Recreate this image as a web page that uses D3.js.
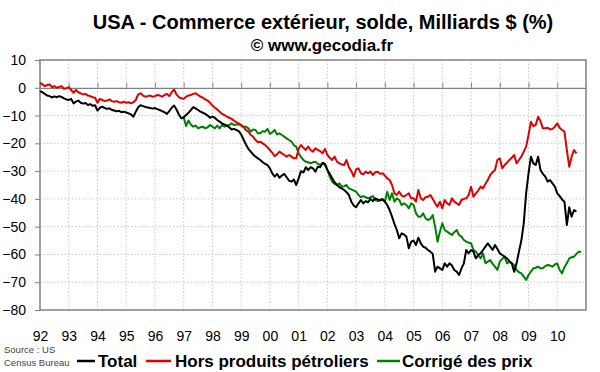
<!DOCTYPE html>
<meta charset="utf-8">
<style>
  body { margin: 0; background: #fff; }
  svg { display: block; font-family: "Liberation Sans", Arial, sans-serif; }
  .grid line { stroke: #c8c8c8; stroke-dasharray: 1.5 2; }
  .axis text { font-size: 14px; fill: #000; }
  .axis line, .axis path { stroke: #808080; }
  .series { fill: none; stroke-width: 2; stroke-linejoin: round; }
</style>
<body>
<svg width="600" height="372"></svg>
<script src="https://d3js.org/d3.v7.min.js"></script>
<script>
// monthly values, Milliards $
const total = [
  -1.2, -1.6, -2.2, -2.8, -3.0, -3.5, -3.1, -3.4, -3.0, -3.3, -3.8, -4.2,          // 1992
  -4.4, -4.0, -5.6, -5.0, -4.6, -5.4, -5.7, -5.5, -6.2, -5.9, -6.5, -6.3,          // 1993
  -8.2, -7.2, -6.8, -7.3, -7.6, -7.4, -8.0, -8.2, -8.5, -8.3, -8.8, -8.6,          // 1994
  -8.9, -9.2, -9.6, -10.4, -8.6, -7.0, -6.3, -6.6, -6.9, -7.1, -7.3, -7.5,         // 1995
  -7.3, -7.7, -8.0, -8.4, -8.8, -9.4, -8.4, -7.2, -6.4, -7.8, -9.6, -11.0,         // 1996
  -10.6, -9.8, -9.0, -8.0, -7.0, -7.4, -8.0, -8.6, -9.0, -9.4, -10.0, -10.8,       // 1997
  -10.4, -10.8, -11.6, -12.2, -12.8, -13.2, -13.6, -14.2, -15.0, -14.8, -15.2, -15.6, // 1998
  -16.8, -18.6, -20.4, -22.0, -23.0, -24.0, -24.8, -25.4, -26.0, -26.8, -27.4, -27.8, // 1999
  -29.0, -30.8, -32.0, -31.0, -32.4, -31.6, -31.0, -32.2, -33.4, -33.8, -33.0, -35.0, // 2000
  -32.6, -30.0, -30.5, -28.6, -29.6, -28.6, -29.0, -30.2, -28.4, -28.6, -27.0, -27.4, // 2001
  -29.6, -31.0, -32.6, -34.0, -35.0, -35.8, -36.2, -36.8, -37.6, -38.6, -41.0, -42.4, // 2002
  -43.0, -41.6, -40.4, -41.6, -40.8, -41.2, -40.0, -40.8, -39.8, -40.2, -40.6, -40.2, // 2003
  -41.0, -42.2, -44.0, -46.4, -49.0, -51.2, -54.2, -52.4, -52.8, -53.6, -57.8, -55.4, // 2004
  -55.0, -56.6, -54.0, -56.0, -57.2, -57.6, -58.4, -59.0, -59.8, -66.2, -64.4, -65.0, // 2005
  -65.6, -63.2, -64.4, -63.2, -64.0, -65.6, -66.2, -67.4, -65.0, -63.2, -58.4, -59.6, // 2006
  -58.4, -59.0, -61.4, -60.2, -59.6, -58.4, -57.2, -56.0, -57.2, -58.4, -56.6, -58.0, // 2007
  -59.6, -60.2, -60.8, -61.4, -62.4, -63.2, -66.2, -63.2, -59.0, -55.0, -48.8, -38.0, // 2008
  -30.8, -24.8, -27.2, -27.8, -24.8, -29.6, -31.0, -32.0, -33.8, -33.2, -34.4, -35.6, // 2009
  -38.0, -39.0, -40.2, -41.0, -49.4, -43.0, -46.4, -44.0, -44.5                        // 2010
];

const horsPetrole = [
  1.8, 1.2, 0.6, 1.0, 1.2, 0.2, 0.6, 0.0, 0.3, 0.6, -0.4, -0.2,                    // 1992
  0.2, -0.8, -1.8, -0.8, -1.6, -2.0, -2.4, -2.2, -2.8, -3.0, -3.4, -3.6,           // 1993
  -5.4, -4.0, -4.4, -4.8, -4.6, -4.2, -4.8, -5.0, -4.8, -5.2, -5.4, -5.0,          // 1994
  -5.4, -5.2, -5.6, -5.2, -4.4, -2.4, -2.0, -2.8, -3.2, -3.0, -2.8, -3.2,          // 1995
  -3.0, -2.6, -2.8, -3.2, -2.6, -2.2, -3.0, -1.6, -0.6, -2.4, -3.4, -3.8,          // 1996
  -4.0, -3.2, -2.8, -2.6, -2.2, -2.0, -2.6, -3.2, -3.6, -4.2, -4.6, -5.4,          // 1997
  -6.4, -7.2, -7.8, -8.6, -9.4, -9.8, -10.4, -10.8, -11.2, -11.8, -12.4, -12.8,    // 1998
  -13.6, -14.2, -15.2, -15.8, -17.0, -17.6, -18.8, -19.6, -19.4, -20.0, -20.6, -21.4, // 1999
  -22.4, -23.4, -24.6, -24.0, -23.0, -23.6, -24.2, -24.8, -24.2, -24.8, -25.4, -25.4, // 2000
  -22.0, -20.6, -21.6, -22.4, -21.2, -22.4, -23.0, -21.8, -22.4, -22.8, -23.6, -22.0, // 2001
  -24.2, -25.2, -26.0, -24.8, -26.6, -27.2, -27.6, -27.8, -26.0, -28.6, -30.0, -32.0, // 2002
  -29.4, -29.0, -30.8, -31.2, -30.2, -30.8, -30.2, -31.4, -30.4, -30.2, -31.0, -30.8, // 2003
  -31.6, -32.6, -33.2, -35.0, -38.0, -38.6, -37.4, -38.8, -39.2, -38.6, -38.0, -39.8, // 2004
  -39.8, -41.0, -36.8, -39.8, -40.4, -39.4, -39.2, -38.6, -40.0, -41.6, -42.8, -41.0, // 2005
  -43.4, -40.4, -41.6, -42.2, -39.8, -41.0, -41.6, -42.2, -40.4, -40.0, -39.8, -38.6, // 2006
  -35.6, -39.2, -38.0, -37.0, -35.6, -36.2, -34.6, -33.2, -31.4, -30.4, -29.6, -26.0, // 2007
  -25.4, -29.0, -27.8, -27.0, -26.0, -25.2, -24.2, -27.2, -26.0, -24.8, -23.0, -21.2, // 2008
  -17.0, -12.2, -13.8, -13.4, -10.4, -12.0, -14.6, -14.6, -14.4, -15.0, -14.8, -14.0, // 2009
  -12.8, -14.4, -15.2, -15.8, -22.4, -28.4, -24.8, -22.4, -23.6                       // 2010
];

const corrigePrix = [
  -10.6, -13.8, -11.8, -13.2, -14.0, -13.6, -14.6, -14.2, -14.0, -14.6, -14.2, -13.4, // 1997
  -14.0, -14.6, -13.6, -14.6, -13.4, -14.0, -13.6, -13.4, -12.8, -13.4, -13.2, -13.2, // 1998
  -13.4, -14.0, -14.0, -14.6, -15.8, -15.0, -15.2, -16.4, -16.4, -15.6, -15.8, -14.8, // 1999
  -16.6, -16.0, -15.2, -16.8, -16.4, -17.0, -17.6, -18.2, -18.8, -19.4, -20.6, -21.2, // 2000
  -23.6, -25.0, -26.0, -26.6, -26.8, -27.2, -26.8, -26.6, -27.4, -27.8, -27.2, -27.8, // 2001
  -29.6, -32.0, -33.8, -34.6, -35.0, -34.4, -35.6, -35.4, -35.0, -36.2, -36.6, -37.0, // 2002
  -37.4, -38.6, -39.4, -39.0, -39.4, -39.8, -39.4, -39.0, -40.4, -40.8, -40.4, -40.0, // 2003
  -41.0, -37.4, -40.4, -38.0, -41.0, -39.8, -40.4, -42.2, -41.6, -42.2, -43.4, -41.6, // 2004
  -42.2, -45.2, -46.4, -46.4, -45.2, -47.0, -47.6, -47.2, -45.8, -50.0, -55.4, -51.8, // 2005
  -48.8, -51.2, -51.8, -52.4, -53.0, -52.0, -51.2, -53.0, -53.6, -54.8, -55.4, -55.8, // 2006
  -56.0, -58.4, -59.0, -60.2, -61.4, -59.6, -63.2, -62.6, -62.0, -63.4, -64.4, -65.6, // 2007
  -62.6, -61.6, -60.8, -63.2, -62.6, -63.2, -63.8, -65.6, -66.4, -66.8, -68.0, -69.2, // 2008
  -67.4, -66.2, -65.0, -64.8, -64.4, -65.0, -65.0, -64.2, -63.8, -64.0, -64.4, -63.6, // 2009
  -63.2, -65.6, -66.8, -64.6, -63.2, -61.4, -61.0, -60.8, -59.8, -59.0, -59.0          // 2010
];

const years = d3.range(1992, 2011);
const yearLabels = ["92", "93", "94", "95", "96", "97", "98", "99", "00", "01",
                    "02", "03", "04", "05", "06", "07", "08", "09", "10"];
const yTicks = [10, 0, -10, -20, -30, -40, -50, -60, -70, -80];
const legendLabels = ["Total", "Hors produits pétroliers", "Corrigé des prix"];

const series = [
  { name: legendLabels[2], start: 1997, values: corrigePrix, color: "#008000" },
  { name: legendLabels[1], start: 1992, values: horsPetrole, color: "#e00000" },
  { name: legendLabels[0], start: 1992, values: total, color: "#000" }
];

const svg = d3.select("svg");
const x = d3.scaleLinear().domain([1992, 2011]).range([40, 586]);
const y = d3.scaleLinear().domain([-80, 10]).range([310, 60]);

// titles
svg.append("text").attr("x", 323).attr("y", 29).attr("text-anchor", "middle")
  .style("font-size", "20px").style("font-weight", "bold")
  .text("USA - Commerce extérieur, solde, Milliards $ (%)");
svg.append("text").attr("x", 322).attr("y", 51).attr("text-anchor", "middle")
  .style("font-size", "17px").style("font-weight", "bold")
  .text("© www.gecodia.fr");

// grid
const grid = svg.append("g").attr("class", "grid");
grid.selectAll(".h").data(yTicks.filter(d => d > -80 && d < 10 && d !== 0)).join("line")
  .attr("x1", x.range()[0]).attr("x2", x.range()[1])
  .attr("y1", d => y(d)).attr("y2", d => y(d));
grid.selectAll(".v").data(years.slice(1)).join("line")
  .attr("x1", d => x(d)).attr("x2", d => x(d))
  .attr("y1", y.range()[1]).attr("y2", y.range()[0]);

// zero line with ticks
svg.append("g").attr("class", "axis")
  .attr("transform", `translate(0,${y(0)})`)
  .call(d3.axisTop(x).tickValues(years).tickSize(5).tickSizeOuter(0).tickFormat(""))
  .call(g => g.select(".domain").attr("stroke-width", 1.3));

// frame
svg.append("rect").attr("x", 40).attr("y", 60).attr("width", 546).attr("height", 250)
  .attr("fill", "none").attr("stroke", "#808080").attr("stroke-width", 1.5);

// y axis
svg.append("g").attr("class", "axis")
  .attr("transform", "translate(40,0)")
  .call(d3.axisLeft(y).tickValues(yTicks).tickSize(5).tickPadding(9).tickSizeOuter(0))
  .call(g => g.select(".domain").remove());

// x labels
svg.append("g").attr("class", "axis")
  .attr("transform", "translate(0,310)")
  .call(d3.axisBottom(x).tickValues(years).tickSize(0).tickPadding(21)
    .tickFormat((d, i) => yearLabels[i]))
  .call(g => g.select(".domain").remove());

// series
const line = d3.line()
  .x(d => x(d.t))
  .y(d => y(d.v));
svg.append("g").selectAll("path").data(series).join("path")
  .attr("class", "series")
  .attr("stroke", d => d.color)
  .attr("d", d => line(d.values.map((v, i) => ({ t: d.start + i / 12, v }))));

// source
svg.append("text").attr("x", 4).attr("y", 353).style("font-size", "9.5px").attr("fill", "#444")
  .text("Source : US");
svg.append("text").attr("x", 4).attr("y", 366).style("font-size", "9.5px").attr("fill", "#444")
  .text("Census Bureau");

// legend
const legendPos = [{ x1: 77, x2: 95, tx: 98 }, { x1: 146, x2: 171, tx: 175 }, { x1: 377, x2: 400, tx: 402 }];
const colorOf = name => series.find(s => s.name === name).color;
const legend = svg.append("g").selectAll("g").data(legendLabels).join("g");
legend.append("line")
  .attr("x1", (d, i) => legendPos[i].x1).attr("x2", (d, i) => legendPos[i].x2)
  .attr("y1", 361).attr("y2", 361)
  .attr("stroke", d => colorOf(d)).attr("stroke-width", 2.5);
legend.append("text")
  .attr("x", (d, i) => legendPos[i].tx).attr("y", 367)
  .style("font-size", "17px").style("font-weight", "bold")
  .text(d => d);
</script>
</body>
